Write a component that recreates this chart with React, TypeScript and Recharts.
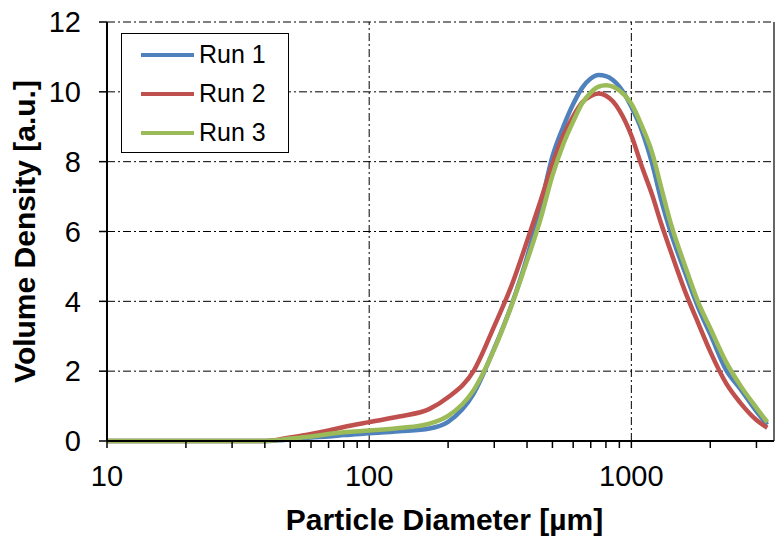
import {
  LineChart,
  Line,
  XAxis,
  YAxis,
  CartesianGrid,
  ReferenceLine,
  Legend,
} from 'recharts';

const diameters = [
  10, 20, 30, 40, 45, 50, 60, 70, 80, 100, 130, 170, 200, 250, 300, 350, 400, 450, 500, 550,
  600, 650, 700, 750, 800, 850, 900, 1000, 1100, 1200, 1300, 1400, 1600, 1800, 2000, 2300, 2600, 3000, 3300,
];
const run1 = [
  0, 0, 0, 0, 0.02, 0.05, 0.1, 0.13, 0.17, 0.22, 0.28, 0.36, 0.55, 1.35, 2.65, 3.92, 5.26, 6.7, 8.15, 9.0,
  9.65, 10.12, 10.38, 10.48, 10.45, 10.34, 10.15, 9.57, 8.86, 7.95, 6.9, 6.07, 4.84, 3.82, 3.06, 2.03, 1.5, 0.85, 0.47,
];
const run2 = [
  0, 0, 0, 0, 0.04, 0.1, 0.2, 0.3, 0.4, 0.54, 0.7, 0.92, 1.25, 2.0, 3.29, 4.47, 5.72, 6.87, 7.93, 8.75,
  9.3, 9.7, 9.88, 9.95, 9.89, 9.73, 9.47, 8.75, 7.83, 7.05, 6.22, 5.52, 4.3, 3.37, 2.56, 1.65, 1.1, 0.6, 0.38,
];
const run3 = [
  0, 0, 0, 0, 0.03, 0.07, 0.13, 0.2, 0.25, 0.3, 0.37, 0.5, 0.72, 1.45, 2.63, 3.9, 5.16, 6.35, 7.6, 8.5,
  9.15, 9.68, 9.98, 10.15, 10.19, 10.15, 10.04, 9.66, 9.0, 8.26, 7.26, 6.34, 5.03, 3.97, 3.23, 2.26, 1.6, 0.95, 0.54,
];

const xTicks = [10, 20, 30, 40, 50, 60, 70, 80, 90, 100, 200, 300, 400, 500, 600, 700, 800, 900, 1000, 2000, 3000];
const xLabels = [10, 100, 1000];
const yTicks = [0, 2, 4, 6, 8, 10, 12];

const data = diameters.map((d, i) => ({ d, run1: run1[i], run2: run2[i], run3: run3[i] }));

const font = "'Liberation Sans', Arial, sans-serif";
const dash = '8 3 2 3';

// eslint-disable-next-line @typescript-eslint/no-explicit-any
const XTick = ({ x, y, payload }: any) =>
  xLabels.includes(payload.value) ? (
    <text x={x} y={y} dy={21} textAnchor="middle" fontFamily={font} fontSize={29} fill="#000">
      {payload.value}
    </text>
  ) : null;

// eslint-disable-next-line @typescript-eslint/no-explicit-any
const LegendBox = ({ payload }: any) => (
  <div
    style={{
      width: 166,
      height: 117,
      border: '1px solid #000',
      background: '#fff',
      paddingTop: 1,
      fontFamily: font,
      fontSize: 25,
      color: '#000',
    }}
  >
    {(payload ?? []).map((p: any) => (
      <div key={p.value} style={{ height: 39, display: 'flex', alignItems: 'center' }}>
        <div style={{ marginLeft: 19, width: 53, height: 4, background: p.color }} />
        <span style={{ marginLeft: 5, lineHeight: 1 }}>{p.value}</span>
      </div>
    ))}
  </div>
);

export default function App() {
  return (
    <div style={{ position: 'absolute', left: 0, top: 0, background: '#fff' }}>
      <LineChart width={779} height={539} data={data} margin={{ top: 22, right: 5, left: 0, bottom: 0 }}>
        <CartesianGrid vertical={false} stroke="#000" strokeDasharray={dash} />
        <ReferenceLine x={100} stroke="#000" strokeDasharray={dash} />
        <ReferenceLine x={1000} stroke="#000" strokeDasharray={dash} />
        <ReferenceLine x={3500} stroke="#333" strokeWidth={1.5} />
        <XAxis
          dataKey="d"
          type="number"
          scale="log"
          domain={[10, 3500]}
          allowDataOverflow
          ticks={xTicks}
          interval={0}
          height={98}
          tickSize={7}
          tickMargin={17}
          stroke="#000"
          strokeWidth={2}
          tick={<XTick />}
          tickLine={{ stroke: '#000', strokeWidth: 1.5 }}
          label={{
            content: ({ viewBox }: any) => (
              <text
                x={viewBox.x + viewBox.width / 2 + 4}
                y={530}
                textAnchor="middle"
                fontFamily={font}
                fontSize={30}
                fontWeight="bold"
                fill="#000"
              >
                Particle Diameter [µm]
              </text>
            ),
          }}
        />
        <YAxis
          type="number"
          domain={[0, 12]}
          ticks={yTicks}
          interval={0}
          width={107}
          tickSize={8}
          tickMargin={18}
          stroke="#000"
          strokeWidth={2}
          tick={{ fill: '#000', fontSize: 29, fontFamily: font }}
          tickLine={{ stroke: '#000', strokeWidth: 1.5 }}
          label={{
            content: ({ viewBox }: any) => {
              const cy = viewBox.y + viewBox.height / 2;
              return (
                <text
                  x={24}
                  y={cy}
                  transform={`rotate(-90 24 ${cy})`}
                  textAnchor="middle"
                  dominantBaseline="central"
                  fontFamily={font}
                  fontSize={30}
                  fontWeight="bold"
                  fill="#000"
                >
                  Volume Density [a.u.]
                </text>
              );
            },
          }}
        />
        <Legend
          layout="vertical"
          align="center"
          verticalAlign="middle"
          content={<LegendBox />}
          wrapperStyle={{ left: 121, top: 33, width: 168, height: 119 }}
        />
        <Line type="monotone" dataKey="run1" name="Run 1" stroke="#4F81BD" strokeWidth={4.5} dot={false} isAnimationActive={false} />
        <Line type="monotone" dataKey="run2" name="Run 2" stroke="#C0504D" strokeWidth={4.5} dot={false} isAnimationActive={false} />
        <Line type="monotone" dataKey="run3" name="Run 3" stroke="#9BBB59" strokeWidth={4.5} dot={false} isAnimationActive={false} />
      </LineChart>
    </div>
  );
}
